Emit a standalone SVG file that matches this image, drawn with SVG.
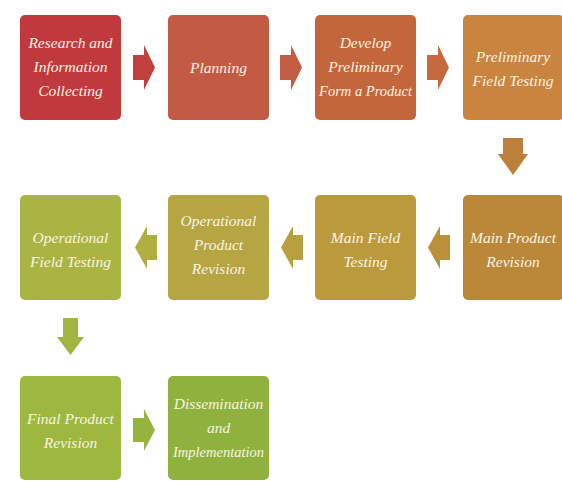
<svg xmlns="http://www.w3.org/2000/svg" width="562" height="481" viewBox="0 0 562 481">
<style>
.box{stroke:none}
.t{font-family:"Liberation Serif","DejaVu Serif",serif;font-style:italic;font-size:15.5px;fill:#fbf3e4;text-anchor:middle}
.s{font-size:14.5px}
</style>
<rect width="562" height="481" fill="#ffffff"/>
<g id="connectors">
<path d="M133,55 H144 V45 L155,67.5 L144,90 V80 H133 Z" fill="#c23f3f"/>
<path d="M280,55 H291 V45 L302,67.5 L291,90 V80 H280 Z" fill="#c45c43"/>
<path d="M427,55 H438 V45 L449,67.5 L438,90 V80 H427 Z" fill="#c66a3d"/>
<path d="M503,138 H523 V154 H528 L513,175 L498,154 H503 Z" fill="#bd7f39"/>
<path d="M450,235 H440 V226 L428,247.5 L440,269 V260 H450 Z" fill="#bb903a"/>
<path d="M303,235 H293 V226 L281,247.5 L293,269 V260 H303 Z" fill="#b99f3d"/>
<path d="M157,235 H147 V226 L135,247.5 L147,269 V260 H157 Z" fill="#b0ad41"/>
<path d="M63,318 H78 V337 H84 L70.5,355 L57,337 H63 Z" fill="#a2b540"/>
<path d="M133,418 H144 V409 L155,430 L144,451 V442 H133 Z" fill="#95b33e"/>
</g>
<g id="n1"><rect class="box" x="20" y="15" width="101" height="105" rx="5" fill="#c0393d"/>
<text class="t" x="70.5" y="48">Research and</text><text class="t" x="70.5" y="72">Information</text><text class="t" x="70.5" y="96">Collecting</text></g>
<g id="n2"><rect class="box" x="168" y="15" width="101" height="105" rx="5" fill="#c35a44"/>
<text class="t" x="218.5" y="73">Planning</text></g>
<g id="n3"><rect class="box" x="315" y="15" width="101" height="105" rx="5" fill="#c4663c"/>
<text class="t" x="365.5" y="48">Develop</text><text class="t" x="365.5" y="72">Preliminary</text><text class="t s" x="365.5" y="96">Form a Product</text></g>
<g id="n4"><rect class="box" x="463" y="15" width="101" height="105" rx="5" fill="#c9843f"/>
<text class="t" x="513" y="62">Preliminary</text><text class="t" x="513" y="86">Field Testing</text></g>
<g id="n5"><rect class="box" x="463" y="195" width="101" height="105" rx="5" fill="#b98839"/>
<text class="t" x="513" y="243">Main Product</text><text class="t" x="513" y="267">Revision</text></g>
<g id="n6"><rect class="box" x="315" y="195" width="101" height="105" rx="5" fill="#bb9a3d"/>
<text class="t" x="365.5" y="243">Main Field</text><text class="t" x="365.5" y="267">Testing</text></g>
<g id="n7"><rect class="box" x="168" y="195" width="101" height="105" rx="5" fill="#b5a543"/>
<text class="t" x="218.5" y="226">Operational</text><text class="t" x="218.5" y="250">Product</text><text class="t" x="218.5" y="274">Revision</text></g>
<g id="n8"><rect class="box" x="20" y="195" width="101" height="105" rx="5" fill="#aab443"/>
<text class="t" x="70.5" y="243">Operational</text><text class="t" x="70.5" y="267">Field Testing</text></g>
<g id="n9"><rect class="box" x="20" y="376" width="101" height="104" rx="5" fill="#9db73f"/>
<text class="t" x="70.5" y="424">Final Product</text><text class="t" x="70.5" y="448">Revision</text></g>
<g id="n10"><rect class="box" x="168" y="376" width="101" height="104" rx="5" fill="#8fb13e"/>
<text class="t" x="218.5" y="409">Dissemination</text><text class="t" x="218.5" y="433">and</text><text class="t s" x="218.5" y="457">Implementation</text></g>
</svg>
